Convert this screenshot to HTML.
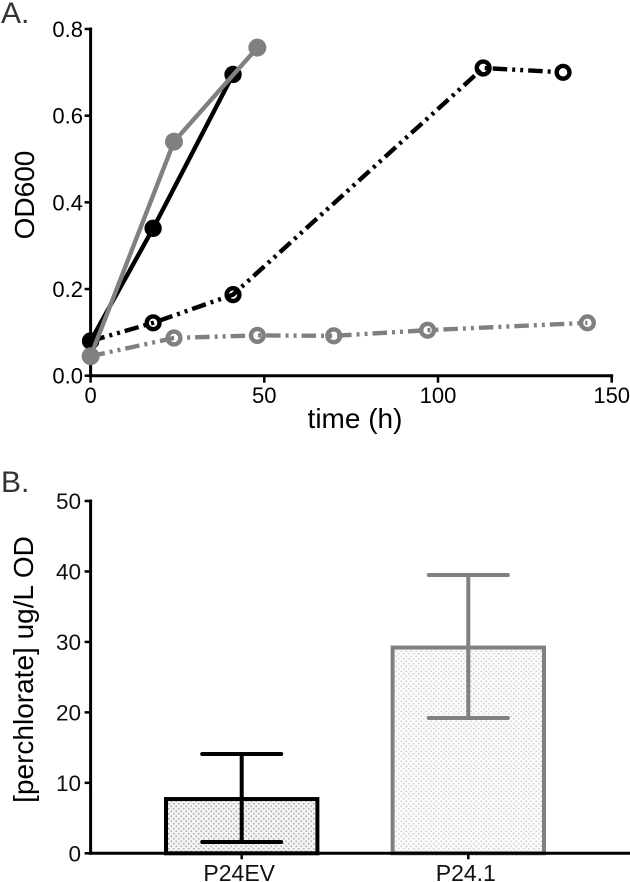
<!DOCTYPE html>
<html>
<head>
<meta charset="utf-8">
<title>Growth and perchlorate chart</title>
<style>
html,body{margin:0;padding:0;background:#fff;overflow:hidden;}
svg{display:block;font-family:"Liberation Sans",sans-serif;}
</style>
</head>
<body>
<svg id="fig" width="630" height="882" viewBox="0 0 630 882" xmlns="http://www.w3.org/2000/svg">
<defs>
<pattern id="stipple" patternUnits="userSpaceOnUse" width="5" height="5">
<rect width="5" height="5" fill="#f6f6f6"></rect>
<circle cx="1.25" cy="1.25" r="0.95" fill="#b4b4b4"></circle>
<circle cx="3.75" cy="3.75" r="0.95" fill="#b4b4b4"></circle>
</pattern>
<pattern id="stipple-light" patternUnits="userSpaceOnUse" width="5" height="5">
<rect width="5" height="5" fill="#fbfbfb"></rect>
<circle cx="1.25" cy="1.25" r="0.9" fill="#d2d2d2"></circle>
<circle cx="3.75" cy="3.75" r="0.9" fill="#d2d2d2"></circle>
</pattern>
</defs>
<g id="panel-a"></g>
<g id="panel-b"></g>
</svg>
<script>
// Panel A data
const xTicksA = [0, 50, 100, 150];
const yTicksA = [0.0, 0.2, 0.4, 0.6, 0.8];
const blackFilledTime = [0, 18, 41];
const blackFilledOD = [0.08, 0.34, 0.695];
const grayFilledTime = [0, 24, 48];
const grayFilledOD = [0.045, 0.54, 0.757];
const blackOpenTime = [0, 18, 41, 113, 136];
const blackOpenOD = [0.08, 0.122, 0.187, 0.71, 0.70];
const grayOpenTime = [0, 24, 48, 70, 97, 143];
const grayOpenOD = [0.045, 0.087, 0.093, 0.092, 0.105, 0.122];

// Panel B data
const barCategories = ['P24EV', 'P24.1'];
const barValues = [7.7, 29.2];
const barErrorHigh = [14.1, 39.5];
const barErrorLow = [1.6, 19.2];
const yTicksB = [0, 10, 20, 30, 40, 50];

const NS = 'http://www.w3.org/2000/svg';
function mk(parent, tag, attrs, text) {
  const el = document.createElementNS(NS, tag);
  for (const k in attrs) el.setAttribute(k, attrs[k]);
  if (text !== undefined) el.textContent = text;
  parent.appendChild(el);
  return el;
}
const BLACK = '#000';
const GRAY = '#808080';
const panelA = document.getElementById('panel-a');
const panelB = document.getElementById('panel-b');

// Axis functions
const xA = t => 90.6 + t * 3.474;
const yA = v => 375.7 - v * 433.4;
const yB = v => 853.3 - v * 7.046;
const xB = i => 241.7 + i * 226.6;

// Panel A axes
let el;
el = mk(panelA, 'text', {x: 1, y: 23, 'font-size': 30, fill: '#333'}, 'A.');



el = mk(panelA, 'line', {x1: xA(0), y1: yA(0.8) - 1.5, x2: xA(0), y2: yA(0) + 1.5, stroke: BLACK, 'stroke-width': 3});


el = mk(panelA, 'line', {x1: xA(0) - 1.5, y1: yA(0), x2: xA(150) + 1.5, y2: yA(0), stroke: BLACK, 'stroke-width': 3});



yTicksA.forEach(v => {
  el = mk(panelA, 'line', {x1: xA(0) - 6, y1: yA(v), x2: xA(0), y2: yA(v), stroke: BLACK, 'stroke-width': 2.5});
  
  
  el = mk(panelA, 'text', {x: 83, y: yA(v) + 8, 'font-size': 22, 'text-anchor': 'end', fill: '#000'}, v.toFixed(1));
  
  
});
xTicksA.forEach(t => {
  el = mk(panelA, 'line', {x1: xA(t), y1: yA(0), x2: xA(t), y2: yA(0) + 7, stroke: BLACK, 'stroke-width': 2.5});
  
  
  el = mk(panelA, 'text', {x: xA(t), y: 403, 'font-size': 22, 'text-anchor': 'middle', fill: '#000'}, String(t));
  
  
});
el = mk(panelA, 'text', {x: 355, y: 428, 'font-size': 28, 'text-anchor': 'middle', fill: '#000'}, 'time (h)');


el = mk(panelA, 'text', {x: 34, y: 195, 'font-size': 28, 'text-anchor': 'middle', fill: '#000', transform: 'rotate(-90 34 195)'}, 'OD600');



function pts(ts, vs) {
  return ts.map((t, i) => xA(t) + ',' + yA(vs[i])).join(' ');
}
const DASH = '14.5 5 3 5 3 5';

// Open series
el = mk(panelA, 'polyline', {points: pts(blackOpenTime, blackOpenOD), fill: 'none', stroke: BLACK, 'stroke-width': 4.4, 'stroke-dasharray': DASH});


blackOpenTime.forEach((t, i) => {
  el = mk(panelA, 'circle', {cx: xA(t), cy: yA(blackOpenOD[i]), r: 6.4, fill: 'none', stroke: BLACK, 'stroke-width': 4.4});
  
  
});
el = mk(panelA, 'polyline', {points: pts(grayOpenTime, grayOpenOD), fill: 'none', stroke: GRAY, 'stroke-width': 4.4, 'stroke-dasharray': DASH});


grayOpenTime.forEach((t, i) => {
  el = mk(panelA, 'circle', {cx: xA(t), cy: yA(grayOpenOD[i]), r: 6.4, fill: 'none', stroke: GRAY, 'stroke-width': 4.4});
  
  
});

// Filled series
el = mk(panelA, 'polyline', {points: pts(blackFilledTime, blackFilledOD), fill: 'none', stroke: BLACK, 'stroke-width': 4.4});


blackFilledTime.forEach((t, i) => {
  el = mk(panelA, 'circle', {cx: xA(t), cy: yA(blackFilledOD[i]), r: 8.7, fill: BLACK});
  
  
});
el = mk(panelA, 'polyline', {points: pts(grayFilledTime, grayFilledOD), fill: 'none', stroke: GRAY, 'stroke-width': 4.4});


grayFilledTime.forEach((t, i) => {
  el = mk(panelA, 'circle', {cx: xA(t), cy: yA(grayFilledOD[i]), r: 9, fill: GRAY});
  
  
});

// Panel B
el = mk(panelB, 'text', {x: 1, y: 492, 'font-size': 30, fill: '#333'}, 'B.');



const barHalf = 75.7;
const capHalf = 39.5;
const colors = [BLACK, GRAY];
const fills = ['url(#stipple)', 'url(#stipple-light)'];
barCategories.forEach((name, i) => {
  const cx = xB(i);
  el = mk(panelB, 'rect', {x: cx - barHalf, y: yB(barValues[i]), width: barHalf * 2, height: yB(0) - yB(barValues[i]), fill: fills[i], stroke: colors[i], 'stroke-width': 4});
  
  
  el = mk(panelB, 'line', {x1: cx, y1: yB(barErrorHigh[i]), x2: cx, y2: yB(barErrorLow[i]), stroke: colors[i], 'stroke-width': 4});
  
  
  [barErrorHigh[i], barErrorLow[i]].forEach(v => {
    el = mk(panelB, 'line', {x1: cx - capHalf, y1: yB(v), x2: cx + capHalf, y2: yB(v), stroke: colors[i], 'stroke-width': 4, 'stroke-linecap': 'round'});
    
    
  });
  el = mk(panelB, 'line', {x1: cx, y1: yB(0), x2: cx, y2: yB(0) + 6, stroke: BLACK, 'stroke-width': 2.5});
  
  
  el = mk(panelB, 'text', {x: cx - 2.5, y: 881, 'font-size': 23, 'text-anchor': 'middle', fill: '#111'}, name);
  
  
});

el = mk(panelB, 'line', {x1: xA(0), y1: yB(50) - 1.5, x2: xA(0), y2: yB(0) + 1.5, stroke: BLACK, 'stroke-width': 3});


el = mk(panelB, 'line', {x1: xA(0) - 1.5, y1: yB(0), x2: 630, y2: yB(0), stroke: BLACK, 'stroke-width': 3});



yTicksB.forEach(v => {
  el = mk(panelB, 'line', {x1: xA(0) - 6, y1: yB(v), x2: xA(0), y2: yB(v), stroke: BLACK, 'stroke-width': 2.5});
  
  
  el = mk(panelB, 'text', {x: 81, y: yB(v) + 8, 'font-size': 22.5, 'text-anchor': 'end', fill: '#111'}, String(v));
  
  
});
el = mk(panelB, 'text', {x: 33, y: 669.5, 'font-size': 28, 'text-anchor': 'middle', fill: '#000', transform: 'rotate(-90 33 669.5)'}, '[perchlorate] ug/L OD');


</script>
</body>
</html>
